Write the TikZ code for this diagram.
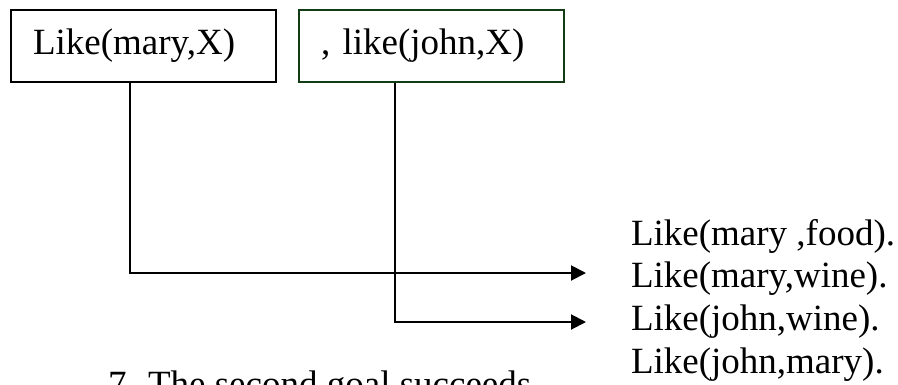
\documentclass[tikz,border=0pt]{standalone}
\usepackage{fontspec}
\setmainfont{Liberation Serif}
\usetikzlibrary{arrows.meta}
\definecolor{goalgreen}{RGB}{20,60,20}
\begin{document}
\begin{tikzpicture}[x=1pt, y=-1pt, line width=2pt,
    every node/.style={font=\fontsize{37}{43}\selectfont},
    goalbox/.style={draw, anchor=north west, text width=221pt, align=left,
      inner xsep=22pt, inner ysep=0pt, minimum height=72pt},
    fact/.style={anchor=base west, inner sep=0pt}]
      \useasboundingbox (0,0) rectangle (898,384);
      \clip (0,0) rectangle (898,384);
      \node[goalbox] (g1) at (10,9) {Like(mary,X)};
      \node[goalbox, draw=goalgreen] (g2) at (298,9) {, like(john,X)};
      \node[fact] (f1) at (630,245) {Like(mary ,food).};
      \node[fact] (f2) at (630,287) {Like(mary,wine).};
      \node[fact] (f3) at (630,330) {Like(john,wine).};
      \node[fact] (f4) at (630,373) {Like(john,mary).};
      \node[fact] (note) at (107,396) {7. The second goal succeeds};
      \coordinate (x1) at (130,0);
      \coordinate (x2) at (395,0);
      \coordinate (hit1) at (586,273);
      \coordinate (hit2) at (586,322);
      \draw[-{Triangle[length=15pt,width=15pt]}] (x1 |- g1.south) |- (hit1);
      \draw[-{Triangle[length=15pt,width=15pt]}] (x2 |- g2.south) |- (hit2);
    \end{tikzpicture}
\end{document}
